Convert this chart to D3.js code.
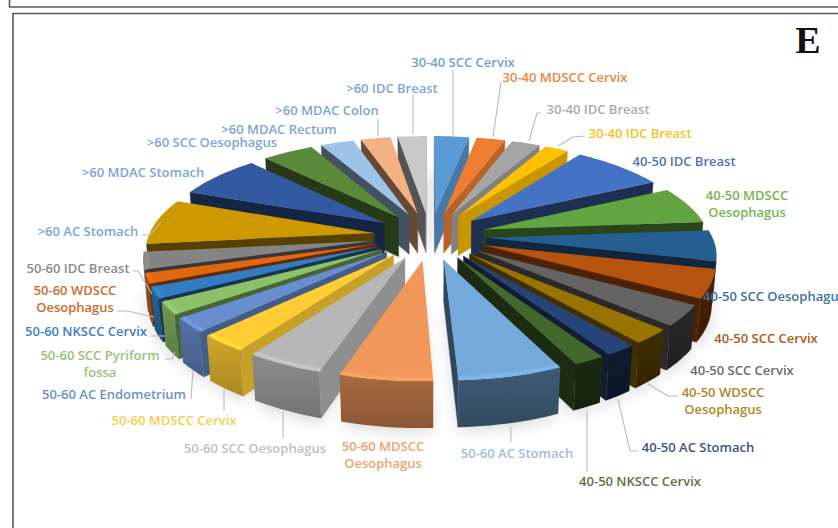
<!DOCTYPE html>
<html>
<head>
<meta charset="utf-8">
<script src="https://cdn.jsdelivr.net/npm/d3@7/dist/d3.min.js"></script>
<style>
html,body{margin:0;padding:0;background:#fff;}
svg{display:block;}
text{font-family:"Open Sans",sans-serif;font-weight:600;}
</style>
</head>
<body>
<svg id="chart" width="838" height="528"></svg>
<script>
// Case categories, clockwise from twelve o'clock
const categories = [
  "30-40 SCC Cervix","30-40 MDSCC Cervix","30-40 IDC Breast","30-40 IDC Breast",
  "40-50 IDC Breast","40-50 MDSCC Oesophagus","40-50 SCC Oesophagus","40-50 SCC Cervix",
  "40-50 SCC Cervix","40-50 WDSCC Oesophagus","40-50 AC Stomach","40-50 NKSCC Cervix",
  "50-60 AC Stomach","50-60 MDSCC Oesophagus","50-60 SCC Oesophagus","50-60 MDSCC Cervix",
  "50-60 AC Endometrium","50-60 SCC Pyriform fossa","50-60 NKSCC Cervix","50-60 WDSCC Oesophagus",
  "50-60 IDC Breast",">60 AC Stomach",">60 MDAC Stomach",">60 SCC Oesophagus",
  ">60 MDAC Rectum",">60 MDAC Colon",">60 IDC Breast"
];
// Share of cases in percent
const shares = [
  2.9,2.4,2.4,2.0,7.8,6.2,5.1,4.7,3.4,2.4,1.9,1.9,6.2,5.5,4.6,2.9,2.4,2.1,1.9,1.7,2.8,7.6,7.2,4.3,2.8,2.5,2.4
];
const sliceColors = [
  "#5B9BD5","#ED7D31","#A5A5A5","#FFC000","#4472C4","#62A43F","#255E91","#B5530F","#636363",
  "#997300","#264478","#43682B","#74A9DB","#F1975A","#B7B7B7","#FFCD33","#698ED0","#8CC168",
  "#327DC2","#E0660F","#848484","#CC9A00","#335AA1","#5A8A39","#9DC3E6","#F4B183","#C9C9C9"
];
const labelColors = [
  "#6AA3D8","#E8853F","#ABABAB","#F5C21C","#4F74B8","#79B353","#3F709F","#B0581C","#6B6B6B",
  "#A98A1E","#3C5484","#56773C","#9BBDDF","#F0A36E","#C0C0C0","#F5CF4A","#6C8FC9","#95C477",
  "#3F7FBD","#D2692A","#8A8A8A","#7BA6D8","#7BA6D8","#7BA6D8","#7BA6D8","#7BA6D8","#7BA6D8"
];
// Text lines per label, the same order as the categories
const labelLines = [
  ["30-40 SCC Cervix"],["30-40 MDSCC Cervix"],["30-40 IDC Breast"],["30-40 IDC Breast"],
  ["40-50 IDC Breast"],["40-50 MDSCC","Oesophagus"],["40-50 SCC Oesophagus"],["40-50 SCC Cervix"],
  ["40-50 SCC Cervix"],["40-50 WDSCC","Oesophagus"],["40-50 AC Stomach"],["40-50 NKSCC Cervix"],
  ["50-60 AC Stomach"],["50-60 MDSCC","Oesophagus"],["50-60 SCC Oesophagus"],["50-60 MDSCC Cervix"],
  ["50-60 AC Endometrium"],["50-60 SCC Pyriform","fossa"],["50-60 NKSCC Cervix"],["50-60 WDSCC","Oesophagus"],
  ["50-60 IDC Breast"],[">60 AC Stomach"],[">60 MDAC Stomach"],[">60 SCC Oesophagus"],
  [">60 MDAC Rectum"],[">60 MDAC Colon"],[">60 IDC Breast"]
];

// Label placement: centre x and the y of the first line's middle
const labelAnchor = [
  [463,62],[565,77],[598,109],[640,133],[684,161],[747,195],[774,296],[766,338],[742,370],[723,392],
  [698,447],[640,481],[517,453],[383,446],[255,448],[174,420],[114,394],[100,355],[86,331],[75,290],
  [78,268],[88,231],[143,172],[212,142],[279,129],[327,110],[392,88]
];
// Leader lines from label to slice
const leaders = [
  [[453,70],[453,135]],
  [[501,82],[493,137]],
  [[541,113],[537,113],[529,141]],
  [[585,136],[573,137],[558,146]],
  null,null,null,null,null,
  [[678,396],[668,396],[648,384]],
  [[638,451],[630,451],[618,399]],
  [[587,472],[587,411]],
  [[511,442],[511,427]],
  null,
  [[283,438],[283,412]],
  [[224,411],[224,389]],
  [[191,399],[193,370]],
  [[165,359],[172,359],[175,352]],
  [[151,336],[165,336]],
  [[117,311],[128,311],[154,317]],
  [[133,271],[138,271],[152,294]],
  [[142,235],[150,235],[161,222]],
  null,null,null,
  [[378,119],[378,136]],
  [[413,95],[413,134]]
];

const svg = d3.select("#chart");
const defs = svg.append("defs");
defs.append("filter").attr("id","soft").attr("x","-20%").attr("y","-20%").attr("width","140%").attr("height","140%")
  .append("feGaussianBlur").attr("stdDeviation",7);
defs.append("filter").attr("id","bevelBlur").attr("filterUnits","userSpaceOnUse").attr("x",0).attr("y",0).attr("width",838).attr("height",528)
  .append("feGaussianBlur").attr("stdDeviation",1.1);

// Page furniture: the panel above and this panel's frame
const frameColor = "#5a5a5a";
svg.append("path").attr("d","M9.5,0V7H838").attr("fill","none").attr("stroke",frameColor).attr("stroke-width",1.6);
svg.append("path").attr("d","M838,13.5H13V528").attr("fill","none").attr("stroke",frameColor).attr("stroke-width",1.6);
svg.append("text").attr("x",808).attr("y",53).attr("text-anchor","middle")
  .style("font-family","'Liberation Serif',serif").style("font-weight",700).style("font-size","38px")
  .attr("fill","#111").text("E");

// Pinhole camera looking down on the pie plate; ground units are explosion lengths
const cam = {cx:430, cy:236, sx:56.4, a:23.7, b:51.2, k:0.037, m:0.0171};
function project(X, Y, Z) {
  const d = 1 + cam.k * Y - cam.m * Z;
  return [cam.cx + cam.sx * X / d, cam.cy - (cam.a * Y + cam.b * Z) / d];
}

const radius = d3.scaleLinear().domain([0,1]).range([0,4]);
const explode = 1;
const thickness = 0.8;
const line = d3.line();
const pie = d3.pie().sort(null).value(d => d);
const color = d3.scaleOrdinal().domain(d3.range(categories.length)).range(sliceColors);

// Lighting: brightness of a radial face by compass bearing of its normal,
// and of the rim wall by bearing around the plate
const faceLight = d3.scaleLinear().domain([125,150]).range([0.78,0.42]).clamp(true);
const rimLight = d3.scaleLinear().domain([60,155,170,190,220,275]).range([0.4,0.4,0.58,0.72,0.82,0.72]).clamp(true);
const toDeg = r => ((r * 180 / Math.PI) % 360 + 360) % 360;
const shade = (c, f) => {
  const q = d3.rgb(c);
  return d3.rgb(q.r * f, q.g * f, q.b * f).formatHex();
};

const slices = pie(shares).map((p,i) => {
  const mid = (p.startAngle + p.endAngle) / 2;
  const ox = explode * Math.sin(mid), oy = explode * Math.cos(mid);
  const at = (ang, r, z) => project(ox + radius(r)*Math.sin(ang), oy + radius(r)*Math.cos(ang), z);
  const steps = Math.max(4, Math.ceil((p.endAngle - p.startAngle) / 0.03));
  const angles = d3.range(steps + 1).map(j => p.startAngle + (p.endAngle - p.startAngle) * j / steps);
  return {i, mid, at, angles, p, depth: oy};
});

// Screen-space orientation: negative means the face is turned towards the camera
const signedArea = pts => -d3.polygonArea(pts);

// Soft shadow under the plate
const shadow = svg.append("g").attr("filter","url(#soft)").attr("opacity",0.3);
slices.forEach(s => {
  const pts = [s.at(0,0,-thickness-0.05)].concat(s.angles.map(a => s.at(a,1.01,-thickness-0.05)));
  shadow.append("path").attr("d",line(pts)+"Z").attr("fill","#8a8a8a");
});

// Painter's order: far slices first
const plate = svg.append("g");
slices.slice().sort((a,b) => b.depth - a.depth).forEach(s => {
  const base = color(s.i);
  const g = plate.append("g").attr("class","slice");
  const a0 = s.p.startAngle, a1 = s.p.endAngle;

  // Radial faces, drawn only when they turn towards the camera
  const startFace = [s.at(0,0,0), s.at(a0,1,0), s.at(a0,1,-thickness), s.at(0,0,-thickness)];
  const endFace = [s.at(a1,1,0), s.at(0,0,0), s.at(0,0,-thickness), s.at(a1,1,-thickness)];
  [[startFace, a0 - Math.PI/2],[endFace, a1 + Math.PI/2]].forEach(([face, normal]) => {
    if (signedArea(face) > 0) return;
    const fill = shade(base, faceLight(toDeg(normal)));
    g.append("path").attr("d",line(face)+"Z").attr("fill",fill).attr("stroke",fill).attr("stroke-width",0.4);
  });

  // Rim wall with a vertical shade, kept to the segments facing the camera
  const gid = "rim"+s.i;
  const light = rimLight(toDeg(s.mid));
  const grad = defs.append("linearGradient").attr("id",gid).attr("x1",0).attr("y1",0).attr("x2",0).attr("y2",1);
  grad.append("stop").attr("offset","0%").attr("stop-color",shade(base, light));
  grad.append("stop").attr("offset","100%").attr("stop-color",shade(base, light * 0.82));
  let run = [];
  const flush = () => {
    if (run.length > 1) {
      const tops = run.map(a => s.at(a,1,0));
      const bots = run.map(a => s.at(a,1,-thickness)).reverse();
      g.append("path").attr("d",line(tops.concat(bots))+"Z").attr("fill",`url(#${gid})`);
    }
    run = [];
  };
  for (let j = 0; j < s.angles.length - 1; j++) {
    const u = s.angles[j], v = s.angles[j+1];
    const q = [s.at(u,1,0), s.at(v,1,0), s.at(v,1,-thickness), s.at(u,1,-thickness)];
    if (signedArea(q) < 0) { if (!run.length) run.push(u); run.push(v); } else flush();
  }
  flush();

  // Top face
  const top = [s.at(0,0,0)].concat(s.angles.map(a => s.at(a,1,0)));
  g.append("path").attr("d",line(top)+"Z").attr("fill",base);

  // Rounded edge catching the light along the front of the rim
  const bearing = toDeg(s.mid);
  if (bearing > 155 && bearing < 262) {
    g.append("path").attr("d",line(s.angles.map(a => s.at(a,0.985,0))))
      .attr("fill","none").attr("stroke",d3.color(base).brighter(0.5).formatHex()).attr("stroke-width",2.2)
      .attr("stroke-opacity",0.75).attr("filter","url(#bevelBlur)");
  }
});

// Leader lines
svg.append("g").selectAll("path").data(leaders.filter(Boolean)).join("path")
  .attr("d",d => line(d)).attr("fill","none").attr("stroke","#b9b9b9").attr("stroke-width",1.1);

// Labels
const lineStep = 17;
const labels = svg.append("g").style("font-size","13px");
labelLines.forEach((lines,i) => {
  const [x,y] = labelAnchor[i];
  lines.forEach((t,j) => {
    labels.append("text").attr("x",x).attr("y",y + j*lineStep).attr("dy","0.35em")
      .attr("text-anchor","middle").attr("fill",labelColors[i]).text(t);
  });
});
</script>
</body>
</html>
